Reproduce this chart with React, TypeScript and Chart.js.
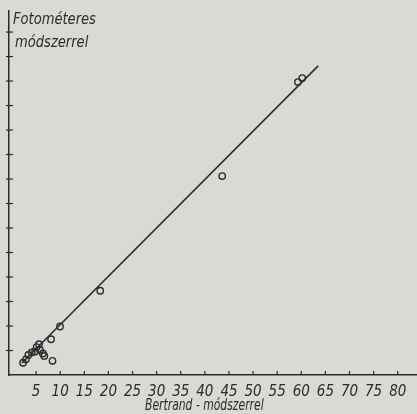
import React, { useEffect, useRef } from "react";
import { Chart, registerables } from "chart.js";

Chart.register(...registerables);

const pointX = [2.3, 2.9, 3.4, 4.1, 4.8, 5.1, 5.6, 5.8, 6.4, 6.7, 8.4, 8.1, 9.96, 18.3, 43.6, 59.3, 60.2];
const pointY = [2.5, 3.2, 4.1, 4.6, 4.8, 5.7, 6.3, 5.1, 4.4, 3.9, 2.9, 7.3, 9.9, 17.2, 40.6, 59.8, 60.6];
const lineX = [2.07, 63.5];
const lineY = [2.45, 63.1];
const xTicks = [5, 10, 15, 20, 25, 30, 35, 40, 45, 50, 55, 60, 65, 70, 75, 80];
const yTicks = [5, 10, 15, 20, 25, 30, 35, 40, 45, 50, 55, 60, 65, 70];
const xTitle = "Bertrand - módszerrel";
const yTitleLines = ["Fotométeres", "módszerrel"];

const INK = "#2b2b2b";
const FONT = "'DejaVu Sans Condensed', 'DejaVu Sans', sans-serif";

const tickPlugin = {
  id: "handTicks",
  afterDraw(chart: any) {
    const ctx = chart.ctx;
    const xs = chart.scales.x;
    const ys = chart.scales.y;
    const area = chart.chartArea;
    ctx.save();
    ctx.strokeStyle = INK;
    ctx.lineWidth = 1.2;
    for (const v of yTicks) {
      const py = ys.getPixelForValue(v);
      ctx.beginPath();
      ctx.moveTo(area.left - 3, py);
      ctx.lineTo(area.left + 4, py);
      ctx.stroke();
    }
    for (const v of xTicks) {
      const px = xs.getPixelForValue(v);
      ctx.beginPath();
      ctx.moveTo(px, area.bottom);
      ctx.lineTo(px, area.bottom - 4);
      ctx.stroke();
    }
    ctx.fillStyle = INK;
    ctx.textBaseline = "alphabetic";
    ctx.textAlign = "left";
    ctx.font = "italic 15px " + FONT;
    const drawCondensed = (text: string, x: number, y: number, sx: number) => {
      ctx.save();
      ctx.translate(x, y);
      ctx.scale(sx, 1);
      ctx.fillText(text, 0, 0);
      ctx.restore();
    };
    drawCondensed(xTitle, 145, 410, 0.8);
    drawCondensed(yTitleLines[0], 13, 24, 0.97);
    drawCondensed(yTitleLines[1], 15, 47, 0.97);
    ctx.restore();
  },
};

export default function App() {
  const ref = useRef<HTMLCanvasElement>(null);
  useEffect(() => {
    document.body.style.margin = "0";
    document.body.style.background = "#d9dad5";
    const chart = new Chart(ref.current!, {
      type: "scatter",
      data: {
        datasets: [
          {
            type: "line",
            data: lineX.map((x, i) => ({ x, y: lineY[i] })),
            borderColor: INK,
            borderWidth: 1.6,
            pointRadius: 0,
            fill: false,
          } as any,
          {
            data: pointX.map((x, i) => ({ x, y: pointY[i] })),
            pointRadius: 3.2,
            pointBorderWidth: 1.4,
            pointBorderColor: INK,
            pointBackgroundColor: "rgba(0,0,0,0)",
          },
        ],
      },
      options: {
        animation: false,
        responsive: false,
        maintainAspectRatio: false,
        layout: { autoPadding: false, padding: { top: 11, left: 0, right: 0, bottom: 0 } },
        plugins: { legend: { display: false }, tooltip: { enabled: false } },
        scales: {
          x: {
            type: "linear",
            min: -0.62,
            max: 84,
            afterBuildTicks: (s: any) => {
              s.ticks = xTicks.map((v) => ({ value: v }));
            },
            afterFit: (s: any) => {
              s.height = 39;
              s.paddingLeft = 0;
              s.paddingRight = 0;
            },
            grid: { display: false },
            border: { color: INK, width: 1.5 },
            ticks: {
              color: INK,
              padding: 0,
              maxRotation: 0,
              autoSkip: false,
              font: { family: FONT, size: 15, style: "italic" },
            },
          },
          y: {
            type: "linear",
            min: 0,
            max: 74.3,
            afterBuildTicks: (s: any) => {
              s.ticks = yTicks.map((v) => ({ value: v }));
            },
            afterFit: (s: any) => {
              s.width = 9;
              s.paddingTop = 0;
              s.paddingBottom = 0;
            },
            grid: { display: false },
            border: { color: INK, width: 1.5 },
            ticks: { display: false },
          },
        },
      },
      plugins: [tickPlugin],
    });
    return () => chart.destroy();
  }, []);
  return (
    <div style={{ width: 417, height: 414, background: "#d9dad5" }}>
      <canvas ref={ref} width={417} height={414} style={{ display: "block" }} />
    </div>
  );
}
